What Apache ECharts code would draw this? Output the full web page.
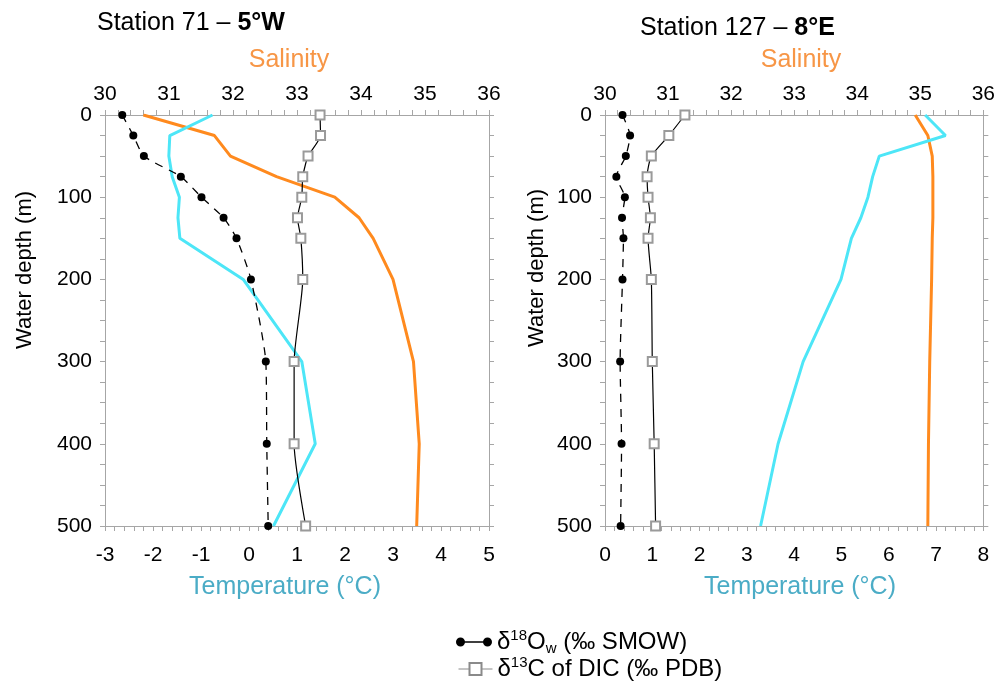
<!DOCTYPE html>
<html><head><meta charset="utf-8">
<script src="https://cdn.jsdelivr.net/npm/echarts@6/dist/echarts.min.js"></script>
<style>html,body{margin:0;padding:0;background:#fff}#c{width:998px;height:682px}</style>
</head><body><div id="c"></div>
<script>
// depths (m)
var depths = [0, 25, 50, 75, 100, 125, 150, 200, 300, 400, 500];
// Station 71 (5°W)
var st71Salinity = [30.6, 31.71, 31.96, 32.68, 33.59, 33.97, 34.19, 34.5, 34.82, 34.91, 34.87];
var st71Temp = [-0.76, -1.65, -1.67, -1.6, -1.45, -1.48, -1.44, -0.12, 1.1, 1.38, 0.51];
var st71d18O = [-2.64, -2.41, -2.19, -1.42, -0.99, -0.53, -0.26, 0.04, 0.35, 0.37, 0.4];
var st71d13C = [1.48, 1.49, 1.23, 1.12, 1.1, 1.01, 1.08, 1.12, 0.94, 0.94, 1.18];
// Station 127 (8°E)
var st127Salinity = [34.92, 35.12, 35.19, 35.2, 35.2, 35.2, 35.19, 35.18, 35.15, 35.13, 35.12];
var st127Temp = [6.77, 7.2, 5.8, 5.66, 5.56, 5.41, 5.21, 4.99, 4.19, 3.66, 3.29];
var st127d18O = [0.37, 0.53, 0.44, 0.24, 0.42, 0.36, 0.39, 0.37, 0.32, 0.35, 0.33];
var st127d13C = [1.69, 1.35, 0.98, 0.89, 0.91, 0.96, 0.91, 0.98, 1.0, 1.04, 1.07];
// axis ranges
var salinityRange = [30, 36];
var temp71Range = [-3, 5];
var temp127Range = [0, 8];
var depthRange = [0, 500];

function pairs(vals) { return vals.map(function (v, i) { return [v, depths[i]]; }); }

var FONT = 'Liberation Sans, Arial, sans-serif';
var axisGray = '#a6a6a6';
var orange = '#FF8A1E';
var cyan = '#4DE6F7';

function xAx(grid, pos, range) {
  return {
    type: 'value', gridIndex: grid, position: pos, min: range[0], max: range[1], interval: 1,
    axisLine: { show: true, onZero: false, lineStyle: { color: axisGray, width: 1 } },
    axisTick: { show: true, length: 5, lineStyle: { color: axisGray } },
    minorTick: { show: true, splitNumber: 5, length: 5, lineStyle: { color: axisGray } },
    splitLine: { show: false },
    axisLabel: { fontSize: 21, color: '#000', fontFamily: FONT, margin: pos === 'top' ? 10 : 19 }
  };
}
function yAx(grid, pos) {
  return {
    type: 'value', gridIndex: grid, position: pos, inverse: true, min: depthRange[0], max: depthRange[1], interval: 100,
    axisLine: { show: true, onZero: false, lineStyle: { color: axisGray, width: 1 } },
    axisTick: { show: true, length: 5, lineStyle: { color: axisGray } },
    minorTick: { show: true, splitNumber: 4, length: 5, lineStyle: { color: axisGray } },
    splitLine: { show: false },
    axisLabel: { show: pos === 'left', fontSize: 21, color: '#000', fontFamily: FONT, margin: 13 }
  };
}

function lineSeries(name, xi, yi, data, color) {
  return { name: name, type: 'line', xAxisIndex: xi, yAxisIndex: yi, data: pairs(data), symbol: 'none',
    lineStyle: { color: color, width: 3 }, z: 2 };
}
function d18Series(xi, yi, data) {
  return { name: 'd18O', type: 'line', xAxisIndex: xi, yAxisIndex: yi, data: pairs(data),
    symbol: 'circle', symbolSize: 8, showAllSymbol: true, smooth: 0.2,
    itemStyle: { color: '#000' }, lineStyle: { color: '#000', width: 1.3, type: [8, 7] }, z: 4 };
}
function d13Series(xi, yi, data) {
  return { name: 'd13C', type: 'line', xAxisIndex: xi, yAxisIndex: yi, data: pairs(data),
    symbol: 'emptyRect', symbolSize: 9, showAllSymbol: true, smooth: 0.2,
    itemStyle: { color: '#9a9a9a', borderWidth: 1 }, lineStyle: { color: '#000', width: 1.2 }, z: 3 };
}

var chart = echarts.init(document.getElementById('c'), null, { renderer: 'canvas' });
var richLegend = {
  a: { fontSize: 24, fontFamily: FONT, color: '#000', lineHeight: 28 },
  sup: { fontSize: 15, fontFamily: FONT, color: '#000', lineHeight: 16, verticalAlign: 'top' },
  sub: { fontSize: 15, fontFamily: FONT, color: '#000', lineHeight: 12, verticalAlign: 'bottom' }
};
function legendFormatter(n) {
  if (n === 'd18O') return '{a|δ}{sup|18}{a|O}{sub|w}{a| (‰ SMOW)}';
  return '{a|δ}{sup|13}{a|C of DIC (‰ PDB)}';
}
var titleRich = { n: { fontSize: 25, fontFamily: FONT, fill: '#000' }, b: { fontSize: 25, fontFamily: FONT, fontWeight: 'bold', fill: '#000' } };
chart.setOption({
  animation: false,
  backgroundColor: '#fff',
  textStyle: { fontFamily: FONT },
  grid: [
    { left: 105, right: 509, top: 115, bottom: 156 },
    { left: 605, right: 8, top: 115, bottom: 156 }
  ],
  xAxis: [xAx(0, 'bottom', temp71Range), xAx(0, 'top', salinityRange), xAx(1, 'bottom', temp127Range), xAx(1, 'top', salinityRange)],
  yAxis: [yAx(0, 'left'), yAx(0, 'right'), yAx(1, 'left'), yAx(1, 'right')],
  legend: [
    {
      left: 456, top: 628, padding: 0, itemWidth: 36, itemHeight: 10, selectedMode: false,
      data: [{ name: 'd18O', icon: 'path://M0,5A5,5 0 1,1 10,5A5,5 0 1,1 0,5Z M9,4.3L31,4.3L31,5.7L9,5.7Z M30,5A5,5 0 1,1 40,5A5,5 0 1,1 30,5Z', itemStyle: { color: '#000' } }],
      formatter: legendFormatter, textStyle: { rich: richLegend, fontSize: 24 }
    },
    {
      left: 458, top: 655, padding: 0, itemWidth: 34, itemHeight: 15, selectedMode: false,
      data: [{ name: 'd13C', itemStyle: { color: '#8a8a8a' }, lineStyle: { color: '#8a8a8a', width: 1, type: 'solid' } }],
      formatter: legendFormatter, textStyle: { rich: richLegend, fontSize: 24 }
    }
  ],
  graphic: [
    { type: 'text', x: 97, y: 23, style: { text: '{n|Station 71 – }{b|5°W}', textVerticalAlign: 'middle', rich: titleRich } },
    { type: 'text', x: 640, y: 28, style: { text: '{n|Station 127 – }{b|8°E}', textVerticalAlign: 'middle', rich: titleRich } },
    { type: 'text', x: 289, y: 60, style: { text: 'Salinity', fill: '#F79646', font: '25px ' + FONT, textAlign: 'center', textVerticalAlign: 'middle' } },
    { type: 'text', x: 801, y: 60, style: { text: 'Salinity', fill: '#F79646', font: '25px ' + FONT, textAlign: 'center', textVerticalAlign: 'middle' } },
    { type: 'text', x: 285, y: 587, style: { text: 'Temperature (°C)', fill: '#4BACC6', font: '25px ' + FONT, textAlign: 'center', textVerticalAlign: 'middle' } },
    { type: 'text', x: 800, y: 587, style: { text: 'Temperature (°C)', fill: '#4BACC6', font: '25px ' + FONT, textAlign: 'center', textVerticalAlign: 'middle' } },
    { type: 'text', x: 25, y: 270, rotation: Math.PI / 2, style: { text: 'Water depth (m)', fill: '#000', font: '22px ' + FONT, textAlign: 'center', textVerticalAlign: 'middle' } },
    { type: 'text', x: 537, y: 268, rotation: Math.PI / 2, style: { text: 'Water depth (m)', fill: '#000', font: '22px ' + FONT, textAlign: 'center', textVerticalAlign: 'middle' } }
  ],
  series: [
    lineSeries('Salinity 71', 1, 0, st71Salinity, orange),
    lineSeries('Temperature 71', 0, 0, st71Temp, cyan),
    d13Series(0, 0, st71d13C),
    d18Series(0, 0, st71d18O),
    lineSeries('Salinity 127', 3, 2, st127Salinity, orange),
    lineSeries('Temperature 127', 2, 2, st127Temp, cyan),
    d13Series(2, 2, st127d13C),
    d18Series(2, 2, st127d18O)
  ]
});
</script></body></html>
